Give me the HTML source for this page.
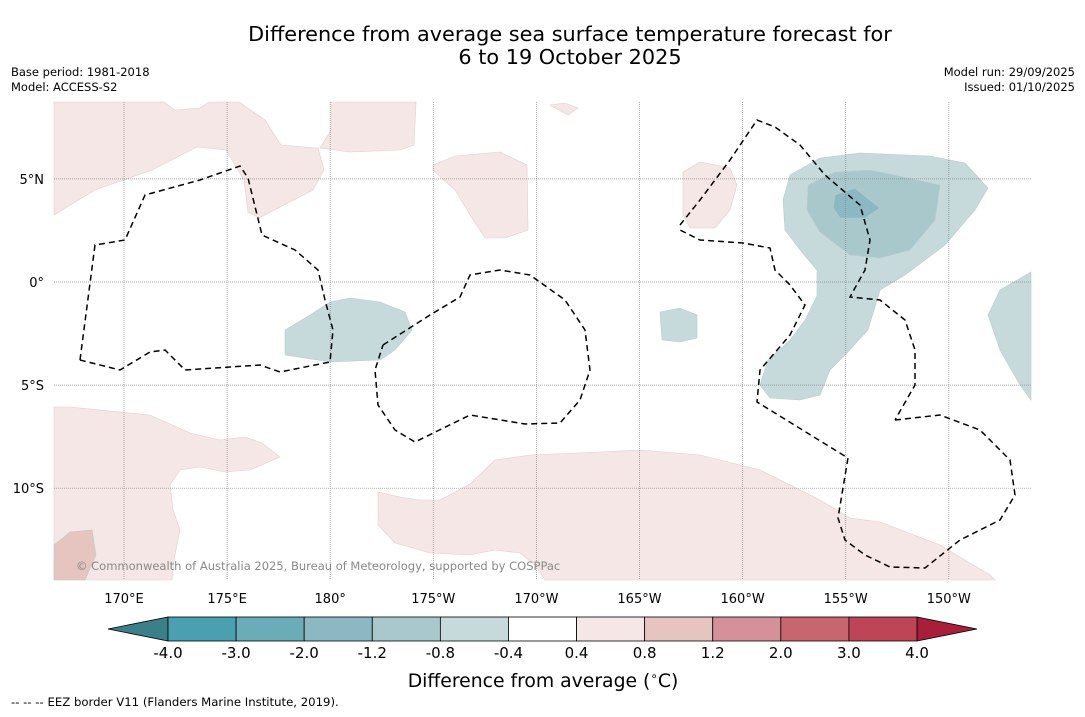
<!DOCTYPE html>
<html><head><meta charset="utf-8"><style>
body{margin:0;background:#fff;font-family:"DejaVu Sans","Liberation Sans",sans-serif;}
svg text{font-family:"DejaVu Sans","Liberation Sans",sans-serif;}
</style></head><body>
<svg id="c" width="1085" height="713" viewBox="0 0 1085 713" xmlns="http://www.w3.org/2000/svg">
<text x="570" y="41" font-size="20.8" text-anchor="middle">Difference from average sea surface temperature forecast for</text>
<text x="570" y="64" font-size="20.8" text-anchor="middle">6 to 19 October 2025</text>
<text x="11" y="76" font-size="11.5">Base period: 1981-2018</text>
<text x="11" y="91" font-size="11.5">Model: ACCESS-S2</text>
<text x="1075" y="76" font-size="11.5" text-anchor="end">Model run: 29/09/2025</text>
<text x="1075" y="91" font-size="11.5" text-anchor="end">Issued: 01/10/2025</text>
<g id="map"></g>
<g id="cbar"></g>
<text x="543" y="687" font-size="18.8" text-anchor="middle">Difference from average (<tspan font-size="12" dy="-7">∘</tspan><tspan dy="7">C)</tspan></text>
<text x="11" y="706" font-size="11.7">-- -- -- EEZ border V11 (Flanders Marine Institute, 2019).</text>
</svg>
<script>
const lonTicks=[170,175,180,185,190,195,200,205,210];
const lonLabels=["170°E","175°E","180°","175°W","170°W","165°W","160°W","155°W","150°W"];
const latTicks=[5,0,-5,-10];
const latLabels=["5°N","0°","5°S","10°S"];
const cbLevels=[-4.0,-3.0,-2.0,-1.2,-0.8,-0.4,0.4,0.8,1.2,2.0,3.0,4.0];
const cbLabels=["-4.0","-3.0","-2.0","-1.2","-0.8","-0.4","0.4","0.8","1.2","2.0","3.0","4.0"];
const cbColors=["#4aa0b0","#6aacb7","#8bb8c3","#a9c8cc","#c6d9db","#ffffff","#f4e7e6","#e6c4c0","#d5919a","#c8666f","#bd4556"];
const NS="http://www.w3.org/2000/svg";
const X0=54,X1=1031,Y0=102,Y1=580;
function xLon(l){return 124+(l-170)*20.62;}
function yLat(l){return 282-l*20.62;}
function mk(tag,attrs,parent){const e=document.createElementNS(NS,tag);for(const k in attrs)e.setAttribute(k,attrs[k]);parent.appendChild(e);return e;}
const map=document.getElementById('map');
const shapes=[
 ["#f4e7e6","pink-region-northwest","54,102 164,102 175,110 200,108 209,102 239,102 265,120 281,145 318,148 324,170 313,190 259,218 248,212 244,180 226,150 197,147 152,170 95,190 54,215"],
 ["#f4e7e6","pink-region-north","331,102 416,102 414,145 400,150 350,152 320,148 331,130"],
 ["#f4e7e6","pink-region-central-north","433,165 455,156 500,152 527,165 528,230 505,238 485,238 470,215 455,190 433,170"],
 ["#f4e7e6","pink-region-small-top","550,105 565,103 578,108 568,115"],
 ["#f4e7e6","pink-region-line-islands","683,172 700,162 730,168 737,185 730,210 715,228 690,228 683,215"],
 ["#f4e7e6","pink-region-southwest","54,407 70,407 150,415 190,433 220,440 245,437 262,443 280,457 250,470 225,472 200,467 180,470 170,485 173,510 180,530 174,560 172,580 54,580"],
 ["#e6c4c0","dark-pink-region-southwest","54,545 70,532 92,530 96,555 85,580 54,580"],
 ["#f4e7e6","pink-region-south","378,492 400,497 420,500 440,500 470,484 495,460 530,455 600,452 640,450 700,455 760,470 820,500 850,518 880,522 940,545 990,575 995,580 545,580 535,565 520,553 495,550 470,555 430,553 395,543 378,525"],
 ["#c6d9db","blue-region-west","285,330 310,315 330,302 350,298 380,302 405,312 412,330 395,350 380,360 330,362 285,355"],
 ["#c6d9db","blue-region-small","660,312 680,308 697,315 697,338 680,342 662,340"],
 ["#c6d9db","blue-region-east","790,175 820,158 860,153 930,156 965,163 988,188 975,210 945,245 905,275 880,290 868,330 845,355 830,370 820,395 800,400 770,398 760,385 768,360 790,340 805,320 817,296 817,270 800,250 785,230 783,200"],
 ["#c6d9db","blue-region-edge","1031,272 1000,290 988,315 1000,350 1020,385 1031,400"],
 ["#a9c8cc","blue-region-core","808,185 835,172 870,170 940,185 935,220 910,250 880,258 850,255 820,232 807,210"],
 ["#8bb8c3","blue-region-peak","835,195 855,188 880,208 865,218 840,218 833,208"]
];
shapes.forEach(s=>{const p=mk('polygon',{points:s[2],fill:s[0],stroke:s[0]==="#f4e7e6"?"#e2cfcd":"#b9cccf","stroke-width":0.6},map);

});
lonTicks.forEach((l,i)=>{const x=xLon(l);
 const g=mk('line',{x1:x,x2:x,y1:Y0,y2:Y1,stroke:"#888","stroke-width":0.7,"stroke-dasharray":"1,1"},map);
 
 
 const t=mk('text',{x:x,y:603,"font-size":13,"text-anchor":"middle"},map);t.textContent=lonLabels[i];
 
 });
latTicks.forEach((l,i)=>{const y=yLat(l);
 const g=mk('line',{x1:X0,x2:X1,y1:y,y2:y,stroke:"#888","stroke-width":0.7,"stroke-dasharray":"1,1"},map);
 
 
 const t=mk('text',{x:44,y:y+5,"font-size":13,"text-anchor":"end"},map);t.textContent=latLabels[i];
 
 });
const eez=[
 "80,360 95,245 125,240 145,195 200,180 240,166 248,178 262,235 295,250 318,270 325,300 333,330 330,362 280,372 260,365 185,370 165,350 150,352 120,370 80,360",
 "383,345 430,315 460,297 470,275 500,270 530,275 565,300 585,330 590,370 580,400 560,423 525,424 470,415 415,442 395,430 378,405 375,370 383,345",
 "680,225 700,200 730,160 757,120 775,127 800,145 825,175 860,205 870,240 865,270 850,297 880,300 905,320 915,350 915,385 895,420",
 "895,420 940,415 980,430 1010,460 1015,495 1000,520 960,540 925,568 890,567 865,555 845,540 838,518 848,458 757,402 760,370 790,335 805,305 790,285 775,270 770,248 743,243 700,240 680,230"
];
eez.forEach(p=>{const e=mk('polyline',{points:p,fill:"none",stroke:"#000","stroke-width":1.5,"stroke-dasharray":"6,4"},map);
 
 });
const cp=mk('text',{x:76,y:570,"font-size":11.5,fill:"#888"},map);cp.textContent="© Commonwealth of Australia 2025, Bureau of Meteorology, supported by COSPPac";


const cb=document.getElementById('cbar');
const cbX0=168,cbX1=917,cbT=617,cbB=641;
function xCb(i){return cbX0+i*(cbX1-cbX0)/(cbLevels.length-1);}
const lt=mk('polygon',{points:`108,629 ${cbX0},${cbT} ${cbX0},${cbB}`,fill:"#3b7f88",stroke:"#000","stroke-width":0.8},cb);


const rt=mk('polygon',{points:`977,629 ${cbX1},${cbT} ${cbX1},${cbB}`,fill:"#a81f3a",stroke:"#000","stroke-width":0.8},cb);


cbColors.forEach((c,i)=>{const r=mk('rect',{x:xCb(i),y:cbT,width:xCb(i+1)-xCb(i),height:cbB-cbT,fill:c,stroke:"#000","stroke-width":0.8},cb);
 
 });
cbLabels.forEach((s,i)=>{const t=mk('text',{x:xCb(i),y:658,"font-size":15,"text-anchor":"middle"},cb);t.textContent=s;
 
 });
</script>
</body></html>
